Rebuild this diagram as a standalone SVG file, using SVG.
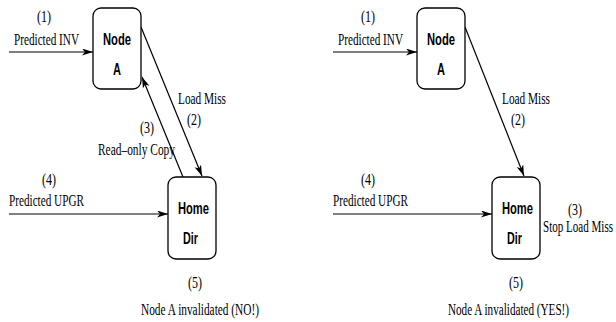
<svg xmlns="http://www.w3.org/2000/svg" width="616" height="322" viewBox="0 0 616 322">
<style>
.box{fill:#fff;stroke:#000;stroke-width:1.3}
.ln{fill:none;stroke:#000;stroke-width:1.2;marker-end:url(#ah)}
.t{font-family:"Liberation Serif","Times New Roman",serif;font-size:16px;fill:#000}
.b{font-family:"Liberation Sans",Arial,sans-serif;font-size:16px;font-weight:bold;fill:#000}
</style>
<defs>
<marker id="ah" markerUnits="userSpaceOnUse" markerWidth="12" markerHeight="8" refX="11" refY="3.5" orient="auto">
<path d="M0,0 L11,3.5 L0,7 L3,3.5 z" fill="#000"/>
</marker>
</defs>
<g id="connectors">
<line class="ln" x1="9" y1="52" x2="93" y2="52"/>
<line class="ln" x1="141" y1="27" x2="202" y2="176"/>
<line class="ln" x1="183" y1="177" x2="142" y2="77"/>
<line class="ln" x1="9" y1="214" x2="168" y2="214"/>
<line class="ln" x1="333" y1="52" x2="417" y2="52"/>
<line class="ln" x1="465" y1="27" x2="524" y2="176"/>
<line class="ln" x1="333" y1="214" x2="492" y2="214"/>
</g>
<g id="nodeA-left">
<rect class="box" x="93" y="8" width="48" height="81" rx="8"/>
<text class="b" x="103" y="45" textLength="28" lengthAdjust="spacingAndGlyphs">Node</text>
<text class="b" x="113" y="75" textLength="8" lengthAdjust="spacingAndGlyphs">A</text>
</g>
<g id="homeDir-left">
<rect class="box" x="168" y="177" width="48" height="82" rx="8"/>
<text class="b" x="178" y="214" textLength="31" lengthAdjust="spacingAndGlyphs">Home</text>
<text class="b" x="183" y="244" textLength="15" lengthAdjust="spacingAndGlyphs">Dir</text>
</g>
<g id="nodeA-right">
<rect class="box" x="417" y="8" width="48" height="81" rx="8"/>
<text class="b" x="427" y="45" textLength="28" lengthAdjust="spacingAndGlyphs">Node</text>
<text class="b" x="437" y="75" textLength="8" lengthAdjust="spacingAndGlyphs">A</text>
</g>
<g id="homeDir-right">
<rect class="box" x="492" y="177" width="48" height="82" rx="8"/>
<text class="b" x="502" y="214" textLength="31" lengthAdjust="spacingAndGlyphs">Home</text>
<text class="b" x="507" y="244" textLength="15" lengthAdjust="spacingAndGlyphs">Dir</text>
</g>
<g id="labels-left">
<text class="t" x="37" y="22" textLength="14" lengthAdjust="spacingAndGlyphs">(1)</text>
<text class="t" x="14" y="45" textLength="65" lengthAdjust="spacingAndGlyphs">Predicted INV</text>
<text class="t" x="178" y="104" textLength="48" lengthAdjust="spacingAndGlyphs">Load Miss</text>
<text class="t" x="187" y="125" textLength="14" lengthAdjust="spacingAndGlyphs">(2)</text>
<text class="t" x="140" y="133" textLength="14" lengthAdjust="spacingAndGlyphs">(3)</text>
<text class="t" x="98" y="155" textLength="77" lengthAdjust="spacingAndGlyphs">Read–only Copy</text>
<text class="t" x="42" y="185" textLength="14" lengthAdjust="spacingAndGlyphs">(4)</text>
<text class="t" x="9" y="206" textLength="75" lengthAdjust="spacingAndGlyphs">Predicted UPGR</text>
<text class="t" x="188" y="288" textLength="14" lengthAdjust="spacingAndGlyphs">(5)</text>
<text class="t" x="141" y="315" textLength="118" lengthAdjust="spacingAndGlyphs">Node A invalidated (NO!)</text>
</g>
<g id="labels-right">
<text class="t" x="361" y="22" textLength="14" lengthAdjust="spacingAndGlyphs">(1)</text>
<text class="t" x="338" y="45" textLength="65" lengthAdjust="spacingAndGlyphs">Predicted INV</text>
<text class="t" x="502" y="104" textLength="48" lengthAdjust="spacingAndGlyphs">Load Miss</text>
<text class="t" x="511" y="125" textLength="14" lengthAdjust="spacingAndGlyphs">(2)</text>
<text class="t" x="361" y="185" textLength="14" lengthAdjust="spacingAndGlyphs">(4)</text>
<text class="t" x="333" y="206" textLength="75" lengthAdjust="spacingAndGlyphs">Predicted UPGR</text>
<text class="t" x="568" y="215" textLength="14" lengthAdjust="spacingAndGlyphs">(3)</text>
<text class="t" x="543" y="232" textLength="70" lengthAdjust="spacingAndGlyphs">Stop Load Miss</text>
<text class="t" x="509" y="288" textLength="14" lengthAdjust="spacingAndGlyphs">(5)</text>
<text class="t" x="448" y="315" textLength="121" lengthAdjust="spacingAndGlyphs">Node A invalidated (YES!)</text>
</g>
</svg>
